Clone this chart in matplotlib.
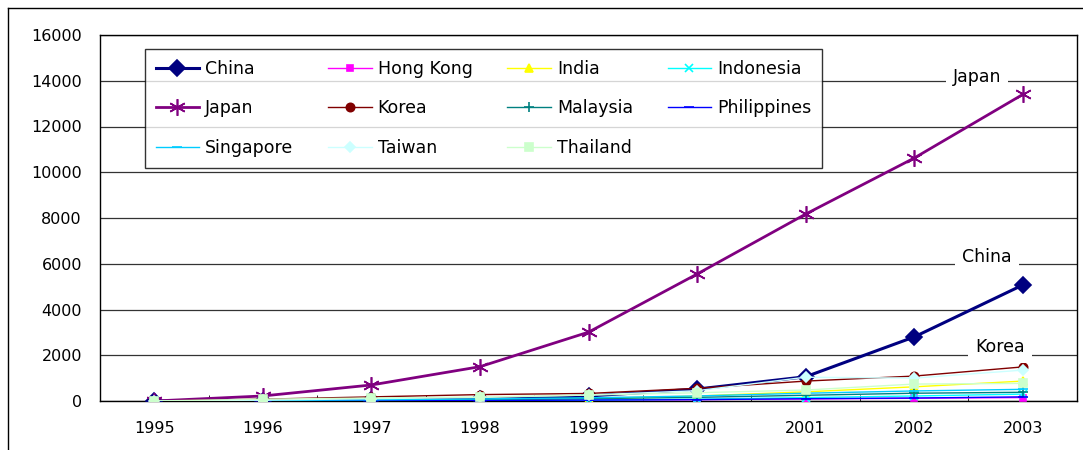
import matplotlib.pyplot as plt
from matplotlib.lines import Line2D

years = ['1995', '1996', '1997', '1998', '1999', '2000', '2001', '2002', '2003']
china = [0, 20, 40, 80, 220, 520, 1060, 2800, 5070]
hong_kong = [0, 5, 10, 20, 40, 60, 90, 120, 150]
india = [0, 5, 15, 40, 100, 220, 400, 620, 870]
indonesia = [0, 5, 10, 20, 40, 80, 150, 220, 300]
japan = [0, 220, 700, 1500, 3010, 5550, 8170, 10620, 13400]
korea = [0, 80, 180, 280, 330, 555, 870, 1090, 1490]
malaysia = [0, 10, 30, 60, 100, 160, 250, 340, 380]
philippines = [0, 5, 10, 20, 40, 60, 100, 130, 180]
singapore = [0, 20, 50, 90, 140, 220, 340, 440, 510]
taiwan = [0, 40, 100, 160, 260, 450, 1040, 1000, 1350]
thailand = [0, 80, 130, 170, 260, 360, 480, 740, 770]

plt.rcParams['font.family'] = ['DejaVu Sans']

fig = plt.figure(figsize=(10.83, 4.5), dpi=100)
ax = fig.add_axes([100 / 1083, 1 - 401 / 450, 977 / 1083, 366 / 450])

x = range(len(years))
# name, values, color, marker, markersize, linewidth
series = [
    ('China', china, '#000080', 'D', 8, 2.2),
    ('Hong Kong', hong_kong, '#FF00FF', 's', 5, 1),
    ('India', india, '#FFFF00', '^', 6, 1),
    ('Indonesia', indonesia, '#00FFFF', 'x', 6, 1),
    ('Japan', japan, '#800080', (6, 2, 0), 12, 2),
    ('Korea', korea, '#800000', 'o', 6, 1),
    ('Malaysia', malaysia, '#008080', '+', 7, 1),
    ('Philippines', philippines, '#0000FF', '_', 7, 1),
    ('Singapore', singapore, '#00CCFF', '_', 7, 1),
    ('Taiwan', taiwan, '#CCFFFF', 'D', 5, 1),
    ('Thailand', thailand, '#CCFFCC', 's', 6, 1),
]

handles = {}
for name, vals, col, mk, ms, lw in series:
    ln, = ax.plot(x, vals, color=col, marker=mk, markersize=ms, linewidth=lw,
                  markeredgewidth=1.2, label=name, zorder=3)
    handles[name] = ln

ax.set_xlim(-0.5, len(years) - 0.5)
ax.set_ylim(0, 16000)
ax.set_yticks(range(0, 16001, 2000))
ax.set_xticks(list(x))
ax.set_xticklabels(years)
ax.set_xticks([i + 0.5 for i in range(len(years) - 1)], minor=True)
ax.tick_params(axis='x', which='major', length=0, pad=14.5, labelsize=11.5)
ax.tick_params(axis='x', which='minor', length=4, direction='in')
ax.tick_params(axis='y', length=0, pad=13, labelsize=11.5)
ax.grid(axis='y', color='#333333', linewidth=0.9, zorder=0)
for sp in ax.spines.values():
    sp.set_color('black')
    sp.set_linewidth(1)

# end labels
box = dict(facecolor='white', edgecolor='none', pad=5)
ax.text(7.576, 14150, 'Japan', ha='center', va='center', fontsize=12.5, bbox=box, zorder=4)
ax.text(7.67, 6280, 'China', ha='center', va='center', fontsize=12.5, bbox=box, zorder=4)
ax.text(7.79, 2370, 'Korea', ha='center', va='center', fontsize=12.5, bbox=box, zorder=4)

# legend in column-major order so rows read China, Hong Kong, India, ...
order = ['China', 'Japan', 'Singapore', 'Hong Kong', 'Korea', 'Taiwan',
         'India', 'Malaysia', 'Thailand', 'Indonesia', 'Philippines']
leg = ax.legend([handles[n] for n in order], order, ncol=4, fontsize=12.5,
                loc='upper left', bbox_to_anchor=(45 / 977, 1 - 14 / 366),
                frameon=True, fancybox=False, edgecolor='black',
                borderpad=0.62, labelspacing=1.24, columnspacing=2.0,
                handlelength=2.5, handletextpad=0.35, borderaxespad=0)
leg.get_frame().set_linewidth(1)
leg.set_zorder(5)

# outer chart border
fig.add_artist(Line2D([8 / 1083, 1], [1 - 8 / 450, 1 - 8 / 450], color='black', lw=1))
fig.add_artist(Line2D([8 / 1083, 8 / 1083], [0, 1 - 8 / 450], color='black', lw=1))

fig.savefig('out.png', dpi=100)
